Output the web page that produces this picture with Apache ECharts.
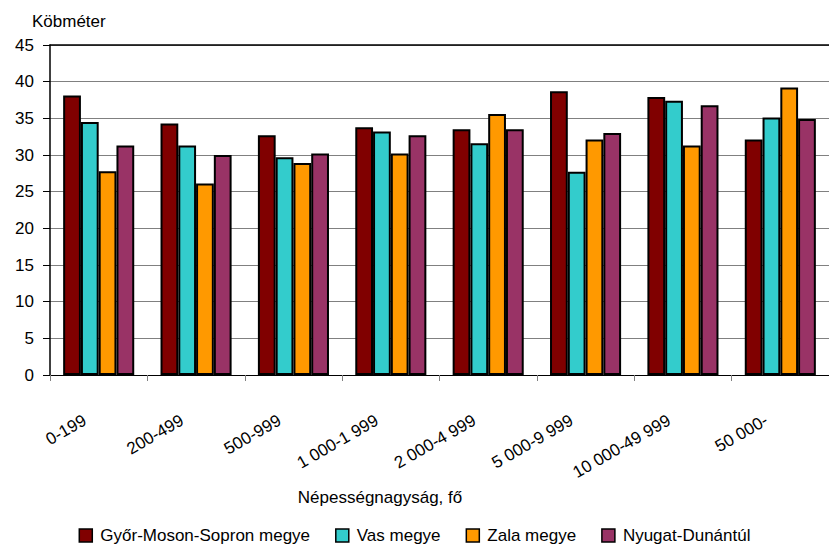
<!DOCTYPE html>
<html>
<head>
<meta charset="utf-8">
<style>
  html, body { margin: 0; padding: 0; background: #fff; }
  #chart { width: 829px; height: 546px; }
</style>
<script src="https://cdn.jsdelivr.net/npm/echarts@6/dist/echarts.min.js"></script>
</head>
<body>
<div id="chart"></div>
<script>
// Településméret-kategóriák (lakosok száma)
const categories = ['0-199', '200-499', '500-999', '1 000-1 999', '2 000-4 999', '5 000-9 999', '10 000-49 999', '50 000-'];

// Egy főre jutó vízfogyasztás, köbméter
const gyorMosonSopron = [38.1, 34.3, 32.7, 33.8, 33.5, 38.7, 37.9, 32.1];
const vas = [34.5, 31.3, 29.7, 33.2, 31.6, 27.7, 37.4, 35.1];
const zala = [27.8, 26.1, 28.9, 30.2, 35.6, 32.1, 31.3, 39.2];
const nyugatDunantul = [31.3, 30.0, 30.2, 32.7, 33.5, 33.0, 36.8, 34.9];

const seriesNames = ['Győr-Moson-Sopron megye', 'Vas megye', 'Zala megye', 'Nyugat-Dunántúl'];
const seriesColors = ['#800000', '#33CCCC', '#FF9900', '#993366'];
const seriesData = [gyorMosonSopron, vas, zala, nyugatDunantul];

const FONT = "'Liberation Sans', Arial, sans-serif";

const chart = echarts.init(document.getElementById('chart'), null, { renderer: 'svg' });

chart.setOption({
  backgroundColor: '#ffffff',
  animation: false,
  textStyle: { fontFamily: FONT, color: '#000' },
  grid: { left: 50, right: -13, top: 45, bottom: 171, containLabel: false },
  legend: {
    data: seriesNames,
    top: 527,
    left: 'center',
    padding: 0,
    icon: 'rect',
    itemWidth: 13,
    itemHeight: 13,
    itemGap: 25,
    itemStyle: { borderColor: '#000', borderWidth: 1.5 },
    textStyle: { fontFamily: FONT, fontSize: 17, lineHeight: 17, color: '#000', padding: [0, 0, 0, 3] }
  },
  xAxis: [
    {
      type: 'category',
      data: categories,
      position: 'bottom',
      axisLine: { show: true, lineStyle: { color: '#000', width: 1 } },
      axisTick: { show: true, length: 6, lineStyle: { color: '#808080', width: 1 } },
      axisLabel: {
        rotate: 30,
        margin: 36,
        padding: [0, 16, 0, 0],
        fontFamily: FONT,
        fontSize: 17,
        color: '#000',
        interval: 0
      }
    },
    {
      // felső keretvonal
      type: 'category',
      data: categories,
      position: 'top',
      axisLine: { show: true, lineStyle: { color: '#000', width: 1.5 } },
      axisTick: { show: false },
      axisLabel: { show: false }
    }
  ],
  yAxis: {
    type: 'value',
    min: 0,
    max: 45,
    interval: 5,
    axisLine: { show: true, lineStyle: { color: '#000', width: 1.5 } },
    axisTick: { show: true, length: 7, lineStyle: { color: '#000', width: 1 } },
    axisLabel: { margin: 16, fontFamily: FONT, fontSize: 17, color: '#000' },
    splitLine: { show: true, lineStyle: { color: '#808080', width: 1 } }
  },
  graphic: [
    {
      type: 'text',
      left: 32,
      top: 13,
      style: { text: 'Köbméter', fontFamily: FONT, fontSize: 17, fill: '#000' }
    },
    {
      type: 'text',
      x: 380,
      y: 497,
      style: {
        text: 'Népességnagyság, fő',
        fontFamily: FONT,
        fontSize: 17,
        fill: '#000',
        align: 'center',
        verticalAlign: 'middle'
      }
    }
  ],
  series: seriesNames.map((name, i) => ({
    name: name,
    type: 'bar',
    xAxisIndex: 0,
    data: seriesData[i],
    barGap: '0%',
    barCategoryGap: '27%',
    itemStyle: { color: seriesColors[i], borderColor: '#000', borderWidth: 2 }
  }))
});
</script>
</body>
</html>
